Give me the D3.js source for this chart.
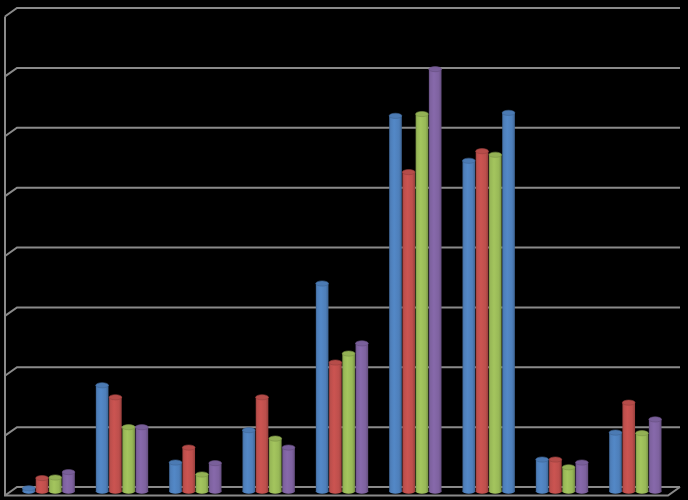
<!DOCTYPE html>
<html>
<head>
<meta charset="utf-8">
<script src="https://cdn.jsdelivr.net/npm/d3@7"></script>
<style>
html,body{margin:0;padding:0;background:#000;}
svg{display:block;}
</style>
</head>
<body>
<script>
const categories = ["C1","C2","C3","C4","C5","C6","C7","C8","C9"];
const seriesNames = ["Series 1","Series 2","Series 3","Series 4"];
const series1 = [0.05, 1.77, 0.48, 1.02, 3.47, 6.27, 5.52, 0.53, 0.98];
const series2 = [0.22, 1.57, 0.73, 1.57, 2.15, 5.33, 5.68, 0.53, 1.48];
const series3 = [0.23, 1.07, 0.28, 0.88, 2.30, 6.30, 5.62, 0.40, 0.97];
const series4 = [0.32, 1.07, 0.47, 0.73, 2.47, 7.05, 6.32, 0.48, 1.20];
const yTicks = [0,1,2,3,4,5,6,7,8];
const seriesColors = ["#4F81BD","#C0504D","#9BBB59","#8064A2"];
const pointColorOverrides = [{series: 3, index: 6, color: "#4F81BD"}];

const W = 688, H = 500;
const depthX = 12, depthY = 8.5;
const frontLeft = 5;

const svg = d3.select("body").append("svg").attr("width", W).attr("height", H);
svg.append("rect").attr("width", W).attr("height", H).attr("fill", "#000");

const y = d3.scaleLinear().domain([0, 8]).range([487, 8]);
const x = d3.scaleBand().domain(categories).range([12, 672]).paddingInner(0.278).paddingOuter(0.139);
const xs = d3.scaleBand().domain(seriesNames).range([0, x.bandwidth()]).padding(0);

const grid = svg.append("g");
const gridColor = "#8a8a8a";
yTicks.forEach(t => {
  const yy = y(t);
  grid.append("path")
    .attr("d", `M${frontLeft},${yy + depthY}L${frontLeft + depthX},${yy}L680,${yy}`)
    .attr("fill", "none").attr("stroke", gridColor).attr("stroke-width", 2);
});
grid.append("path")
  .attr("d", `M${frontLeft},${y(8) + depthY}L${frontLeft},${y(0) + depthY}L668,${y(0) + depthY}L680,${y(0)}`)
  .attr("fill", "none").attr("stroke", gridColor).attr("stroke-width", 2);

const defs = svg.append("defs");
function gradId(color) { return "g" + color.replace("#", ""); }
const allColors = Array.from(new Set(seriesColors.concat(pointColorOverrides.map(o => o.color))));
allColors.forEach(c => {
  const base = d3.color(c);
  const g = defs.append("linearGradient").attr("id", gradId(c)).attr("x1", "0").attr("x2", "1").attr("y1", "0").attr("y2", "0");
  g.append("stop").attr("offset", "0%").attr("stop-color", base.darker(0.7));
  g.append("stop").attr("offset", "12%").attr("stop-color", base.darker(0.05));
  g.append("stop").attr("offset", "40%").attr("stop-color", base.brighter(0.15));
  g.append("stop").attr("offset", "78%").attr("stop-color", base.darker(0.05));
  g.append("stop").attr("offset", "100%").attr("stop-color", base.darker(0.7));
});

const allSeries = [series1, series2, series3, series4];
const rows = [];
categories.forEach((cat, i) => {
  allSeries.forEach((s, j) => {
    const ov = pointColorOverrides.find(o => o.series === j && o.index === i);
    rows.push({cat, ser: seriesNames[j], value: s[i], color: ov ? ov.color : seriesColors[j]});
  });
});

const offY = depthY / 2;
const bars = svg.append("g").selectAll("g").data(rows).join("g");
const ry = 2.6;
bars.each(function(d) {
  const g = d3.select(this);
  const bx = x(d.cat) + xs(d.ser) + 0.3;
  const bw = xs.bandwidth() - 0.6;
  const top = y(d.value) + offY;
  const base = y(0) + offY;
  const cx = bx + bw / 2;
  const col = d3.color(d.color);
  g.append("ellipse").attr("cx", cx).attr("cy", base).attr("rx", bw / 2).attr("ry", ry)
    .attr("fill", `url(#${gradId(d.color)})`);
  g.append("rect").attr("x", bx).attr("y", top).attr("width", bw).attr("height", Math.max(0, base - top))
    .attr("fill", `url(#${gradId(d.color)})`);
  g.append("ellipse").attr("cx", cx).attr("cy", top).attr("rx", bw / 2).attr("ry", ry)
    .attr("fill", col.darker(0.15)).attr("stroke", col.darker(0.7)).attr("stroke-width", 0.6);
});
</script>
</body>
</html>
